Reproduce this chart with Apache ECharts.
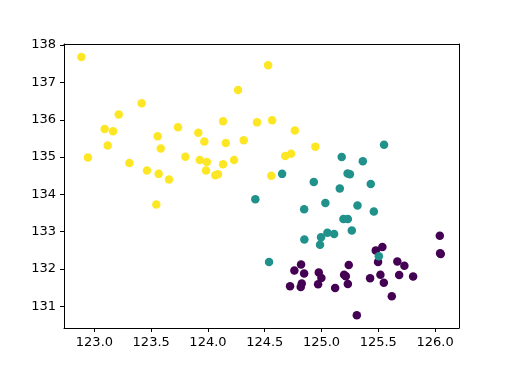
<!DOCTYPE html>
<html><head><meta charset="utf-8">
<script src="https://cdn.jsdelivr.net/npm/echarts@6/dist/echarts.min.js"></script>
<style>html,body{margin:0;padding:0;background:#fff}#c{width:509px;height:369px}</style>
</head><body><div id="c"></div>
<script>
const xTicks = [123.0, 123.5, 124.0, 124.5, 125.0, 125.5, 126.0];
const yTicks = [131, 132, 133, 134, 135, 136, 137, 138];

const purplePts = [
  [126.042,132.89],[126.045,132.42],[126.050,132.40],[125.536,132.59],[125.478,132.50],
  [125.498,132.19],[125.668,132.20],[125.730,132.09],[125.807,131.80],[125.684,131.84],
  [125.519,131.85],[125.549,131.63],[125.428,131.75],[125.619,131.27],[125.311,130.76],
  [125.240,132.11],[125.199,131.85],[125.214,131.81],[125.232,131.60],[125.120,131.49],
  [124.976,131.91],[124.999,131.76],[124.970,131.59],[124.820,132.12],[124.761,131.96],
  [124.847,131.88],[124.826,131.61],[124.817,131.52],[124.723,131.54]
];
const tealPts = [
  [125.551,135.33],[125.178,135.00],[125.364,134.89],[124.653,134.55],[125.230,134.56],
  [125.250,134.54],[124.932,134.33],[125.161,134.16],[125.434,134.28],[124.417,133.87],
  [125.034,133.77],[124.847,133.60],[125.317,133.70],[125.461,133.54],[125.193,133.34],
  [125.232,133.34],[125.267,133.03],[125.052,132.97],[125.111,132.94],[124.996,132.85],
  [124.849,132.79],[124.987,132.65],[124.538,132.19],[125.505,132.34]
];
const yellowPts = [
  [122.885,137.68],[124.530,137.46],[124.265,136.80],[123.416,136.44],[123.214,136.14],
  [124.133,135.96],[124.432,135.93],[124.565,135.99],[123.090,135.75],[123.164,135.69],
  [123.736,135.80],[123.915,135.65],[123.557,135.56],[123.968,135.42],[124.157,135.38],
  [124.315,135.45],[123.584,135.23],[123.117,135.31],[122.943,134.99],[123.801,135.01],
  [123.928,134.92],[123.990,134.87],[124.230,134.92],[123.308,134.84],[124.133,134.81],
  [123.463,134.64],[123.566,134.55],[123.657,134.40],[123.983,134.64],[124.065,134.51],
  [124.088,134.54],[124.558,134.50],[124.680,135.03],[124.732,135.09],[124.765,135.71],
  [124.946,135.28],[123.545,133.73]
];

const chart = echarts.init(document.getElementById('c'), null, {renderer:'canvas'});
const font = {fontFamily:'DejaVu Sans', fontSize:13, color:'#000'};
const xMin = 122.732, xMax = 126.211, yMin = 130.42, yMax = 138.03;
const frameAxis = {axisLine:{show:true, onZero:false, lineStyle:{color:'#000', width:1}},
  axisTick:{show:false}, axisLabel:{show:false}, splitLine:{show:false}};
chart.setOption({
  animation:false,
  grid:{left:64, right:50, top:44, bottom:41},
  xAxis:[{type:'value', min:xMin, max:xMax, position:'bottom',
    axisLine:{show:true, onZero:false, lineStyle:{color:'#000', width:1}},
    axisTick:{show:true, length:4, lineStyle:{color:'#000'}, customValues:xTicks},
    axisLabel:Object.assign({margin:8, customValues:xTicks, formatter:v=>v.toFixed(1)}, font),
    splitLine:{show:false}},
    Object.assign({type:'value', min:xMin, max:xMax, position:'top'}, frameAxis)],
  yAxis:[{type:'value', min:yMin, max:yMax, position:'left',
    axisLine:{show:true, onZero:false, lineStyle:{color:'#000', width:1}},
    axisTick:{show:true, length:4, lineStyle:{color:'#000'}, customValues:yTicks},
    axisLabel:Object.assign({margin:8, customValues:yTicks, formatter:v=>String(Math.round(v))}, font),
    splitLine:{show:false}},
    Object.assign({type:'value', min:yMin, max:yMax, position:'right'}, frameAxis)],
  series:[
    {type:'scatter', data:purplePts, symbolSize:8.5, itemStyle:{color:'#440154', opacity:1}},
    {type:'scatter', data:tealPts, symbolSize:8.5, itemStyle:{color:'#21918c', opacity:1}},
    {type:'scatter', data:yellowPts, symbolSize:8.5, itemStyle:{color:'#fde725', opacity:1}}
  ]
});
</script></body></html>
